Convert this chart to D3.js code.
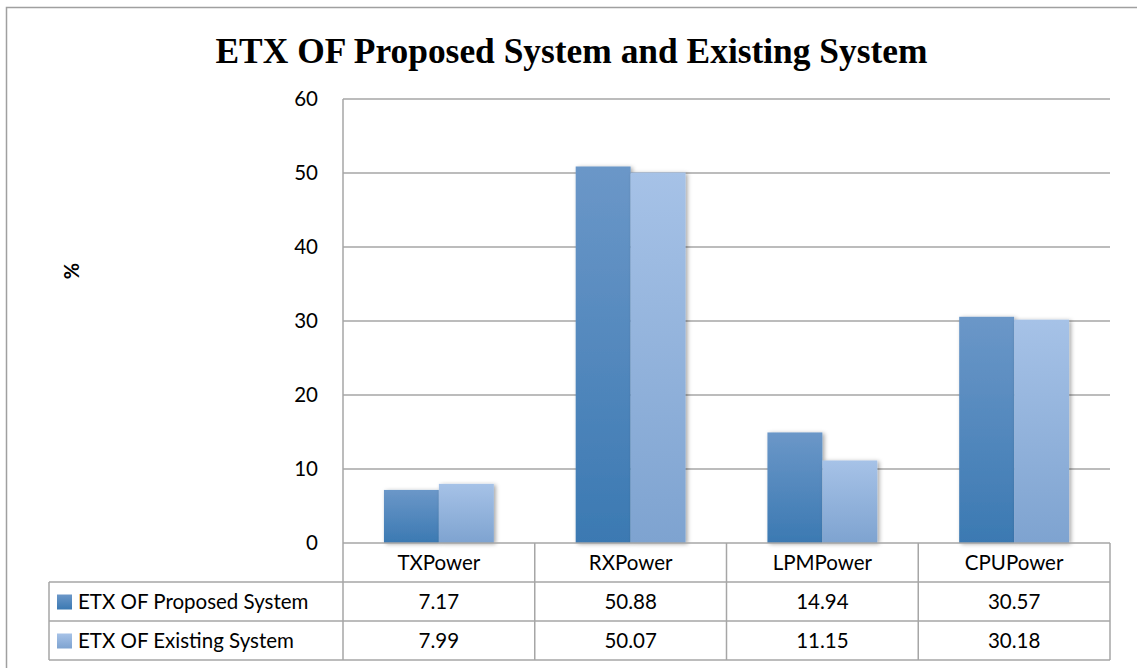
<!DOCTYPE html>
<html>
<head>
<meta charset="utf-8">
<script src="https://cdn.jsdelivr.net/npm/d3@7/dist/d3.min.js"></script>
<style>
  html, body { margin: 0; padding: 0; background: #fff; }
  svg { display: block; }
</style>
</head>
<body>
<svg id="chart" width="1137" height="668"></svg>
<script>
// Chart data
const categories = ["TXPower", "RXPower", "LPMPower", "CPUPower"];
const seriesNames = ["ETX OF Proposed System", "ETX OF Existing System"];
const proposedValues = [7.17, 50.88, 14.94, 30.57];
const existingValues = [7.99, 50.07, 11.15, 30.18];
const yTicks = [0, 10, 20, 30, 40, 50, 60];
const titleText = "ETX OF Proposed System and  Existing System";
const yLabel = "%";

const seriesValues = [proposedValues, existingValues];

const svg = d3.select("#chart");
const W = 1137, H = 668;
const plot = { left: 343, right: 1110, top: 99, bottom: 543 };
const rowH = 39;
const tableLeft = 49;
const labelFont = "Lato, 'Noto Sans', 'Liberation Sans', sans-serif";
const labelSize = 20.5;
const gridColor = "#a6a6a6";

// Gradients for the two series
const defs = svg.append("defs");
const gradStops = [
  ["#6b97c8", "#3b79b2"],
  ["#a6c2e7", "#7ea3d0"]
];
gradStops.forEach((s, i) => {
  const g = defs.append("linearGradient")
    .attr("id", "grad" + i).attr("x1", 0).attr("y1", 0).attr("x2", 0).attr("y2", 1);
  g.append("stop").attr("offset", "0%").attr("stop-color", s[0]);
  g.append("stop").attr("offset", "100%").attr("stop-color", s[1]);
});
const shadow = defs.append("filter").attr("id", "shadow")
  .attr("x", "-20%").attr("y", "-10%").attr("width", "150%").attr("height", "130%");
shadow.append("feDropShadow").attr("dx", 2).attr("dy", 1).attr("stdDeviation", 2)
  .attr("flood-color", "#000").attr("flood-opacity", 0.35);

// Outer chart frame
svg.append("rect")
  .attr("x", 6.5).attr("y", 7.5).attr("width", W + 10).attr("height", H + 10)
  .attr("fill", "none").attr("stroke", "#a0a0a0").attr("stroke-width", 1.5);

// Title
svg.append("text")
  .attr("x", (plot.left + plot.right) / 2 - 155).attr("y", 63)
  .attr("text-anchor", "middle")
  .attr("font-family", "'Liberation Serif', 'Times New Roman', serif")
  .attr("font-weight", "bold").attr("font-size", 36)
  .attr("textLength", 712).attr("lengthAdjust", "spacingAndGlyphs")
  .text(titleText);

// Scales
const y = d3.scaleLinear().domain([0, 60]).range([plot.bottom, plot.top]);
const x0 = d3.scaleBand().domain(categories).range([plot.left, plot.right]).padding(0);
const x1 = d3.scaleBand().domain(seriesNames).range([0, x0.bandwidth()])
  .paddingInner(0).paddingOuter(0.745);

// Gridlines
svg.append("g").selectAll("line").data(yTicks.filter(d => d > 0)).join("line")
  .attr("x1", plot.left).attr("x2", plot.right)
  .attr("y1", d => y(d)).attr("y2", d => y(d))
  .attr("stroke", gridColor).attr("stroke-width", 1.5);

// Y axis labels
const yAxis = d3.axisLeft(y).tickValues(yTicks).tickSize(0).tickPadding(25);
const yg = svg.append("g").attr("transform", `translate(${plot.left},0)`).call(yAxis);
yg.select(".domain").remove();
yg.selectAll("text").attr("font-family", labelFont).attr("font-size", labelSize).attr("fill", "#000");

// Y axis title
svg.append("text")
  .attr("transform", "translate(79,271) rotate(-90)")
  .attr("text-anchor", "middle")
  .attr("font-family", labelFont).attr("font-weight", "bold").attr("font-size", 20)
  .text(yLabel);

// Bars
const groups = svg.append("g").selectAll("g").data(categories).join("g")
  .attr("transform", d => `translate(${x0(d)},0)`);
seriesNames.forEach((name, si) => {
  groups.append("rect")
    .attr("x", x1(name))
    .attr("width", x1.bandwidth())
    .attr("y", (d, ci) => y(seriesValues[si][ci]))
    .attr("height", (d, ci) => y(0) - y(seriesValues[si][ci]))
    .attr("fill", `url(#grad${si})`)
    .attr("filter", "url(#shadow)");
});

// Data table under the plot
const tbl = svg.append("g");
const tableTop = plot.bottom;
const lineAttrs = sel => sel.attr("stroke", gridColor).attr("stroke-width", 1.5).attr("fill", "none");

// horizontal lines
tbl.append("line").call(lineAttrs)
  .attr("x1", plot.left).attr("x2", plot.right).attr("y1", tableTop).attr("y2", tableTop);
[1, 2, 3].forEach(r => {
  tbl.append("line").call(lineAttrs)
    .attr("x1", tableLeft).attr("x2", plot.right)
    .attr("y1", tableTop + r * rowH).attr("y2", tableTop + r * rowH);
});
// vertical lines
tbl.append("line").call(lineAttrs)
  .attr("x1", plot.left).attr("x2", plot.left).attr("y1", plot.top).attr("y2", tableTop + 3 * rowH);
tbl.append("line").call(lineAttrs)
  .attr("x1", tableLeft).attr("x2", tableLeft).attr("y1", tableTop + rowH).attr("y2", tableTop + 3 * rowH);
categories.forEach(c => {
  const xr = x0(c) + x0.bandwidth();
  tbl.append("line").call(lineAttrs)
    .attr("x1", xr).attr("x2", xr).attr("y1", tableTop).attr("y2", tableTop + 3 * rowH);
});

// category headers
tbl.selectAll("text.cat").data(categories).join("text").attr("class", "cat")
  .attr("x", d => x0(d) + x0.bandwidth() / 2).attr("y", tableTop + rowH / 2)
  .attr("dy", "0.36em").attr("text-anchor", "middle")
  .attr("font-family", labelFont).attr("font-size", labelSize).text(d => d);

// series rows
seriesNames.forEach((name, si) => {
  const cy = tableTop + rowH * (si + 1) + rowH / 2;
  tbl.append("rect")
    .attr("x", 57).attr("y", cy - 7).attr("width", 15).attr("height", 15)
    .attr("fill", `url(#grad${si})`);
  tbl.append("text")
    .attr("x", 78).attr("y", cy).attr("dy", "0.36em")
    .attr("font-family", labelFont).attr("font-size", labelSize).text(name);
  tbl.selectAll(null).data(categories).join("text")
    .attr("x", d => x0(d) + x0.bandwidth() / 2).attr("y", cy).attr("dy", "0.36em")
    .attr("text-anchor", "middle")
    .attr("font-family", labelFont).attr("font-size", labelSize)
    .text((d, ci) => seriesValues[si][ci].toFixed(2));
});
</script>
</body>
</html>
